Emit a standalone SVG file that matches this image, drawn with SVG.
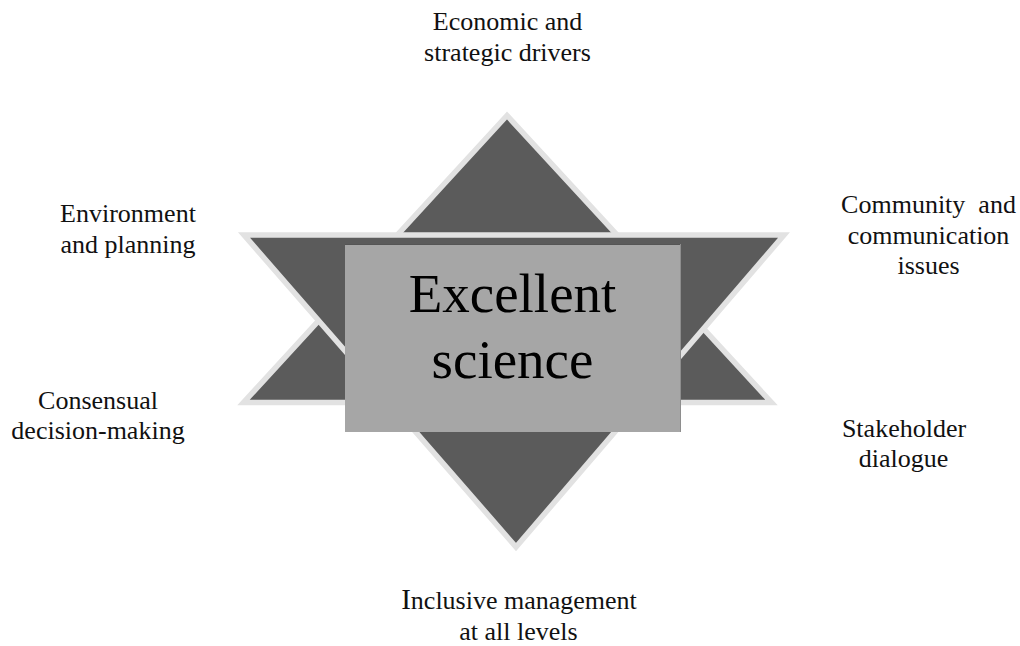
<svg xmlns="http://www.w3.org/2000/svg" width="1020" height="646" viewBox="0 0 1020 646">
<style>
.tri{fill:#5b5b5b;stroke:#e2e2e2;stroke-width:5.5;stroke-linejoin:miter;stroke-miterlimit:10}
.lbl{font-family:"Liberation Serif","Times New Roman",serif;font-size:26px;fill:#111;text-anchor:middle}
.big{font-family:"Liberation Serif","Times New Roman",serif;font-size:55px;fill:#000;text-anchor:middle}
</style>
<rect x="0" y="0" width="1020" height="646" fill="#ffffff"/>
<g id="star">
<polygon class="tri" points="507,115.5 243.5,402.5 771.5,402.5"/>
<polygon class="tri" points="244,235 784,235 516,547"/>
</g>
<g id="center">
<rect x="345" y="244" width="336" height="188" fill="#a6a6a6"/>
<line x1="345" y1="244.5" x2="681" y2="244.5" stroke="#555" stroke-width="1"/>
<line x1="680.5" y1="244" x2="680.5" y2="432" stroke="#8e8e8e" stroke-width="1"/>
<text class="big" x="512.5" y="311.5">Excellent</text>
<text class="big" x="512.5" y="378">science</text>
</g>
<g id="top-label">
<text class="lbl" x="507.5" y="29.5">Economic and</text>
<text class="lbl" x="507.5" y="60.5">strategic drivers</text>
</g>
<g id="upper-left-label">
<text class="lbl" x="128" y="221.5">Environment</text>
<text class="lbl" x="128" y="253">and planning</text>
</g>
<g id="upper-right-label">
<text class="lbl" x="928.5" y="213" xml:space="preserve" style="white-space:pre">Community  and</text>
<text class="lbl" x="928.5" y="243.5">communication</text>
<text class="lbl" x="928.5" y="273.5">issues</text>
</g>
<g id="lower-left-label">
<text class="lbl" x="98" y="408.5">Consensual</text>
<text class="lbl" x="98" y="438.5">decision-making</text>
</g>
<g id="lower-right-label">
<text class="lbl" x="904" y="436.5">Stakeholder</text>
<text class="lbl" x="903.5" y="466.5">dialogue</text>
</g>
<g id="bottom-label">
<text class="lbl" x="519" y="608.5"><tspan font-size="29">I</tspan>nclusive management</text>
<text class="lbl" x="518.5" y="640">at all levels</text>
</g>
<g id="connectors"></g>
</svg>
